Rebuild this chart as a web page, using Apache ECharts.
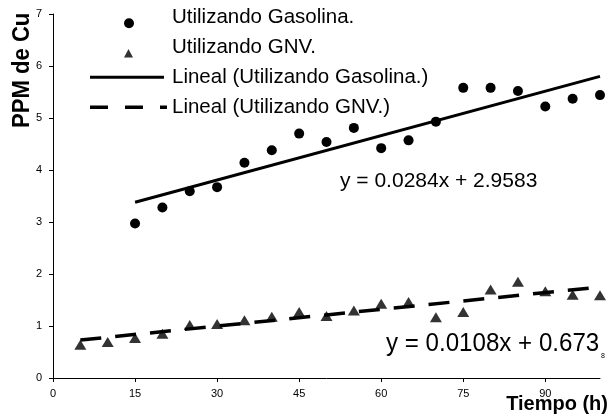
<!DOCTYPE html>
<html>
<head>
<meta charset="utf-8">
<script src="https://cdn.jsdelivr.net/npm/echarts@6/dist/echarts.min.js"></script>
<style>
html,body{margin:0;padding:0;background:#fff;}
#chart{width:612px;height:417px;}
</style>
</head>
<body>
<div id="chart"></div>
<script>
// ---- data ----
const gasX = [15,20,25,30,35,40,45,50,55,60,65,70,75,80,85,90,95,100];
const gasY = [2.97,3.28,3.59,3.67,4.14,4.38,4.70,4.54,4.81,4.42,4.57,4.93,5.58,5.58,5.52,5.22,5.37,5.44];
const gnvX = [5,10,15,20,25,30,35,40,45,50,55,60,65,70,75,80,85,90,95,100];
const gnvY = [0.64,0.69,0.77,0.85,1.02,1.04,1.11,1.18,1.27,1.19,1.30,1.43,1.46,1.17,1.27,1.70,1.85,1.67,1.60,1.59];
const gasTrend = [[15,3.38],[100,5.80]];
const gnvTrend = [[5,0.73],[100,1.75]];
const xTicks = [0,15,30,45,60,75,90];
const yTicks = [0,1,2,3,4,5,6,7];
const seriesNames = ['Utilizando Gasolina.','Utilizando GNV.','Lineal (Utilizando Gasolina.)','Lineal (Utilizando GNV.)'];
const eqGas = 'y = 0.0284x + 2.9583';
const eqGnv = 'y = 0.0108x + 0.673';
const eqGnvTail = '8';
const yTitle = 'PPM de Cu';
const xTitle = 'Tiempo (h)';

const FONT = 'Liberation Sans, Arial, sans-serif';
const chart = echarts.init(document.getElementById('chart'), null, {renderer:'canvas'});

const option = {
  animation:false,
  backgroundColor:'#fff',
  grid:{left:53, top:14, width:547, height:364, containLabel:false},
  xAxis:{
    type:'value', min:0, max:100, interval:15,
    axisLine:{show:true, lineStyle:{color:'#000', width:1}},
    axisTick:{show:true, length:4, lineStyle:{color:'#000'}, customValues:xTicks},
    splitLine:{show:false},
    axisLabel:{color:'#000', fontSize:11, fontFamily:FONT, margin:10, customValues:xTicks}
  },
  yAxis:{
    type:'value', min:0, max:7, interval:1,
    axisLine:{show:true, lineStyle:{color:'#000', width:1}},
    axisTick:{show:true, length:4, lineStyle:{color:'#000'}, customValues:yTicks},
    splitLine:{show:false},
    axisLabel:{color:'#000', fontSize:11, fontFamily:FONT, margin:11, customValues:yTicks}
  },
  series:[
    {name:seriesNames[0], type:'scatter', symbol:'circle', symbolSize:10,
     itemStyle:{color:'#000', opacity:1}, z:2,
     data:gasX.map((x,i)=>[x,gasY[i]])},
    {name:seriesNames[1], type:'scatter', symbol:'triangle', symbolSize:[12,10],
     itemStyle:{color:'#333', opacity:1}, z:2,
     data:gnvX.map((x,i)=>[x,gnvY[i]])},
    {name:seriesNames[2], type:'line', symbol:'none', z:3,
     lineStyle:{color:'#000', width:3}, data:gasTrend},
    {name:seriesNames[3], type:'line', symbol:'none', z:3,
     lineStyle:{color:'#000', width:3.5, type:[21,14]}, data:gnvTrend}
  ],
  graphic:[
    // legend
    {type:'circle', shape:{cx:129, cy:23.3, r:5}, style:{fill:'#000'}},
    {type:'text', left:172, top:7, style:{text:seriesNames[0], font:'20.5px '+FONT, fill:'#000'}},
    {type:'polygon', shape:{points:[[124,57.5],[133,57.5],[128.5,49]]}, style:{fill:'#333'}},
    {type:'text', left:172, top:37, style:{text:seriesNames[1], font:'20.5px '+FONT, fill:'#000'}},
    {type:'line', shape:{x1:90, y1:77.3, x2:164, y2:77.3}, style:{stroke:'#000', lineWidth:3}},
    {type:'text', left:172, top:67, style:{text:seriesNames[2], font:'20.5px '+FONT, fill:'#000'}},
    {type:'line', shape:{x1:90, y1:107.3, x2:167, y2:107.3}, style:{stroke:'#000', lineWidth:3.5, lineDash:[18,17]}},
    {type:'text', left:172, top:97, style:{text:seriesNames[3], font:'20.5px '+FONT, fill:'#000'}},
    // equations
    {type:'text', left:340, top:171, style:{text:eqGas, font:'21px '+FONT, fill:'#000'}},
    {type:'text', x:386, y:332, scaleX:0.965, style:{text:eqGnv, font:'25px '+FONT, fill:'#000'}},
    {type:'text', x:601, y:353, style:{text:eqGnvTail, font:'7px '+FONT, fill:'#000'}},
    // axis titles
    {type:'text', x:10, y:128, rotation:Math.PI/2, scaleX:0.92,
     style:{text:yTitle, font:'bold 24px '+FONT, fill:'#000', textAlign:'left', textVerticalAlign:'top'}},
    {type:'text', x:608, y:394, style:{text:xTitle, font:'bold 20px '+FONT, fill:'#000', textAlign:'right', textVerticalAlign:'top'}}
  ]
};
chart.setOption(option);
</script>
</body>
</html>
